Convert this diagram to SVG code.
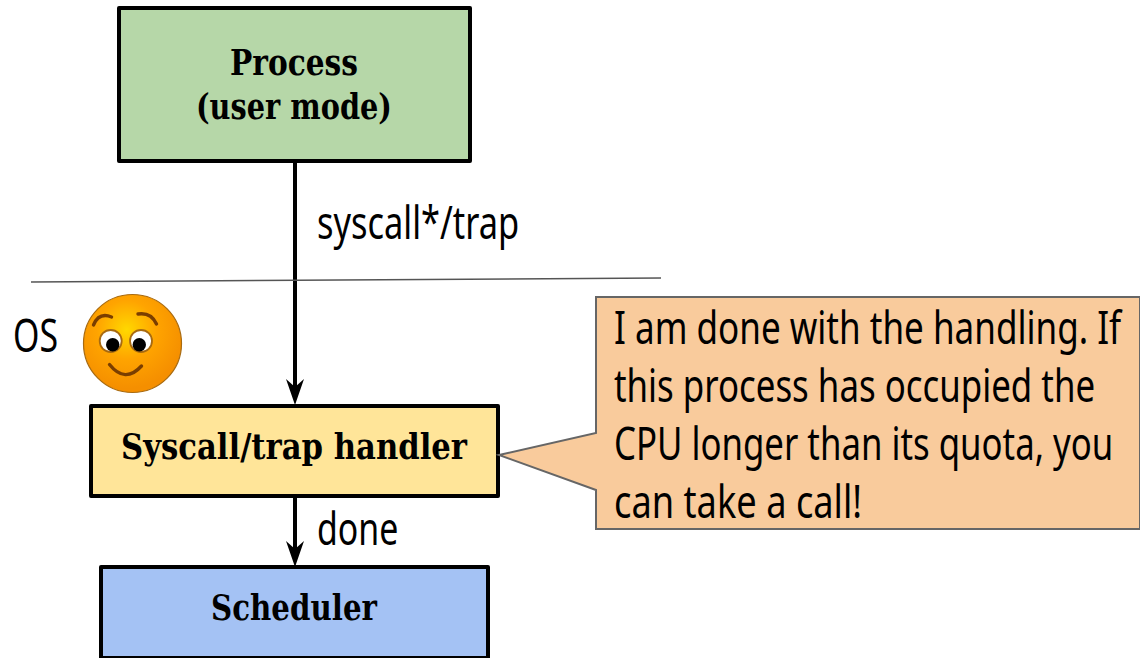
<svg xmlns="http://www.w3.org/2000/svg" width="1140" height="658" viewBox="0 0 1140 658">
<style>
.box{stroke:#000;stroke-width:4;stroke-linejoin:round}
.t{font-family:"DejaVu Serif",serif;font-weight:700;font-size:35px;fill:#000;text-anchor:middle}
.l{font-family:"Noto Sans",sans-serif;font-size:46px;fill:#000}
.c{stroke:#000;stroke-width:4;fill:none}
.brow{stroke:#7a3e00;stroke-width:3.4;fill:none;stroke-linecap:round}
.eye{fill:#fff;stroke:#a86a10;stroke-width:1.8}
</style>
<defs>
<radialGradient id="face" cx="0.44" cy="0.36" r="0.6"><stop offset="0" stop-color="#ffd800"/><stop offset="0.5" stop-color="#ffa400"/><stop offset="1" stop-color="#f58f00"/></radialGradient>
</defs>
<g id="connectors">
<path class="c" d="M295 162V390"/>
<path fill="#000" d="M286 379 L295 387 L304 379 L295 405Z"/>
<path class="c" d="M295 496V552"/>
<path fill="#000" d="M286 541 L295 549 L304 541 L295 567Z"/>
</g>
<path id="boundary" d="M31 282L661 278" stroke="#555" stroke-width="1.5" fill="none"/>
<g id="process"><rect class="box" x="119" y="8" width="351" height="153" fill="#b6d7a8"/>
<text class="t" x="294" y="75" textLength="128" lengthAdjust="spacingAndGlyphs">Process</text>
<text class="t" x="294" y="119" textLength="196" lengthAdjust="spacingAndGlyphs">(user mode)</text></g>
<g id="handler"><rect class="box" x="91" y="406" width="407" height="90" fill="#ffe599"/>
<text class="t" x="294" y="459" textLength="346" lengthAdjust="spacingAndGlyphs">Syscall/trap handler</text></g>
<g id="scheduler"><rect class="box" x="101" y="567" width="387" height="91" fill="#a4c2f4"/>
<text class="t" x="294" y="620" textLength="166" lengthAdjust="spacingAndGlyphs">Scheduler</text></g>
<text class="l" transform="translate(317 239) scale(.79 1)" textLength="256" lengthAdjust="spacingAndGlyphs">syscall*/trap</text>
<text class="l" transform="translate(13 352) scale(.79 1)" textLength="57" lengthAdjust="spacingAndGlyphs">OS</text>
<text class="l" transform="translate(317 545) scale(.79 1)" textLength="103" lengthAdjust="spacingAndGlyphs">done</text>
<g id="smiley">
<circle cx="132.5" cy="343.5" r="49" fill="url(#face)" stroke="#a86a10" stroke-width="1.2"/>
<path class="brow" d="M93.5 325Q99 312 111.5 317"/><path class="brow" d="M138 314Q151 312 156.5 324"/>
<circle class="eye" cx="110.7" cy="341" r="11"/><circle class="eye" cx="141" cy="341" r="11"/>
<circle cx="112.7" cy="344.7" r="6.7" fill="#000"/><circle cx="139.3" cy="344.7" r="6.7" fill="#000"/>
<path class="brow" d="M109.5 364.5Q125 384 141.5 366"/>
</g>
<g id="callout">
<path d="M596 297H1140V529H596V490L499 455L596 433Z" fill="#f9cb9c" stroke="#666" stroke-width="2"/>
<text class="l" transform="translate(614 344) scale(.79 1)" textLength="642" lengthAdjust="spacingAndGlyphs">I am done with the handling. If</text>
<text class="l" transform="translate(614 402) scale(.79 1)" textLength="609" lengthAdjust="spacingAndGlyphs">this process has occupied the</text>
<text class="l" transform="translate(614 460) scale(.79 1)" textLength="632" lengthAdjust="spacingAndGlyphs">CPU longer than its quota, you</text>
<text class="l" transform="translate(614 518) scale(.79 1)" textLength="314" lengthAdjust="spacingAndGlyphs">can take a call!</text>
</g>
</svg>
